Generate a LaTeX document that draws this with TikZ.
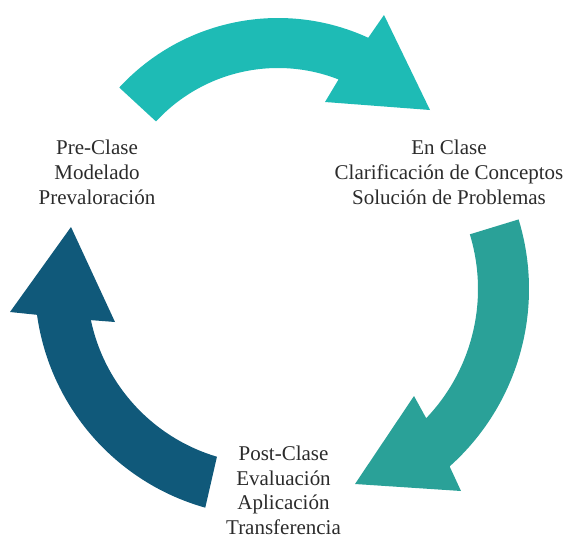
\documentclass[tikz,border=0pt]{standalone}
\usepackage{fontspec}
\setmainfont{Liberation Serif}
\usetikzlibrary{calc}
\definecolor{topc}{HTML}{1EBBB5}
\definecolor{rightc}{HTML}{2AA198}
\definecolor{leftc}{HTML}{10597A}
\definecolor{txt}{HTML}{2B2B2B}
\begin{document}
\begin{tikzpicture}[x=1pt,y=1pt,
  lbl/.style={align=center,inner sep=0pt,text=txt,font=\fontsize{21}{24.9}\selectfont}]
\useasboundingbox (0,0) rectangle (566,-539);
% centres
\coordinate (c1) at (278,-234);
\coordinate (c2) at (291,-289);
\coordinate (c3) at (268.5,-282.7);
% top arrow
\coordinate (t1) at (384,-15);
\coordinate (t2) at (430,-110);
\coordinate (t3) at (325,-102);
\fill[topc] ($(c1)+(137.3:216)$) arc[start angle=137.3,end angle=65.3,radius=216]
  -- (t1) -- (t2) -- (t3) -- ($(c1)+(68.6:166)$)
  arc[start angle=68.6,end angle=137.3,radius=166] -- cycle;
% right arrow
\coordinate (r1) at (461,-491);
\coordinate (r2) at (355,-484);
\coordinate (r3) at (414,-396);
\fill[rightc] ($(c2)+(17:238)$) arc[start angle=17,end angle=-48.2,radius=238]
  -- (r1) -- (r2) -- (r3) -- ($(c2)+(-43.7:187)$)
  arc[start angle=-43.7,end angle=17,radius=187] -- cycle;
% left arrow
\coordinate (l1) at (10,-312);
\coordinate (l2) at (71,-227);
\coordinate (l3) at (115,-322);
\fill[leftc] ($(c3)+(254.3:233.7)$) arc[start angle=254.3,end angle=187.9,radius=233.7]
  -- (l1) -- (l2) -- (l3) -- ($(c3)+(191.9:181.5)$)
  arc[start angle=191.9,end angle=253.5,radius=181.5] -- cycle;
% labels
\node[lbl] (pre) at (97,-172.7) {Pre-Clase\\Modelado\\Prevaloración};
\node[lbl] (en) at (449,-172.2) {En Clase\\Clarificación de Conceptos\\Solución de Problemas};
\node[lbl] (post) at (283.5,-490.3) {Post-Clase\\Evaluación\\Aplicación\\Transferencia};
\end{tikzpicture}
\end{document}
